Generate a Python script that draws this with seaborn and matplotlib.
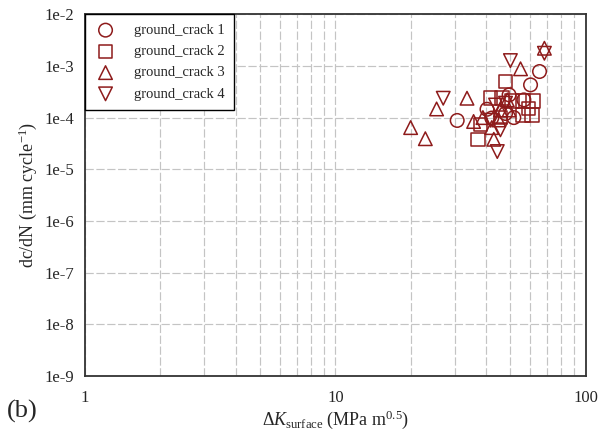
import numpy as np
import pandas as pd
import matplotlib
matplotlib.use("Agg")
import matplotlib.pyplot as plt
import matplotlib.ticker as mticker
import seaborn as sns

# ---- data ----
series_names = ["ground_crack 1", "ground_crack 2", "ground_crack 3", "ground_crack 4"]

dk_crack1 = [65.5, 60.3, 30.7, 49.5, 40.4, 56.7, 51.7, 47.9, 42.2]
dadn_crack1 = [7.8e-4, 4.3e-4, 8.8e-5, 2.75e-4, 1.45e-4, 2.2e-4, 1.0e-4, 1.2e-4, 9.8e-5]

dk_crack2 = [47.9, 37.2, 41.7, 46.4, 50.9, 56.3, 61.8, 56.3, 61.0, 45.7, 38.0, 59.1]
dadn_crack2 = [5.0e-4, 3.8e-5, 2.4e-4, 2.4e-4, 2.1e-4, 2.1e-4, 2.1e-4, 1.13e-4, 1.13e-4, 1.0e-4, 7.3e-5, 1.5e-4]

dk_crack3 = [20.0, 22.9, 25.4, 33.6, 55.0, 68.5, 35.7, 38.9, 42.2, 43.0, 45.7, 49.5, 48.7, 45.0]
dadn_crack3 = [6.4e-5, 3.9e-5, 1.47e-4, 2.37e-4, 8.8e-4, 2.2e-3, 8.4e-5, 1.0e-4, 6.4e-5, 3.8e-5, 1.4e-4, 1.4e-4, 2.2e-4, 9.0e-5]

dk_crack4 = [50.1, 27.0, 44.4, 68.5, 43.7, 41.7, 47.9, 45.7]
dadn_crack4 = [1.27e-3, 2.37e-4, 2.2e-5, 1.76e-3, 1.75e-4, 8.9e-5, 1.9e-4, 5.8e-5]

y_ticks = [1e-9, 1e-8, 1e-7, 1e-6, 1e-5, 1e-4, 1e-3, 1e-2]
y_tick_labels = ["1e-9", "1e-8", "1e-7", "1e-6", "1e-5", "1e-4", "1e-3", "1e-2"]
x_ticks = [1, 10, 100]
x_tick_labels = ["1", "10", "100"]

frames = []
for name, xs, ys in zip(series_names,
                        [dk_crack1, dk_crack2, dk_crack3, dk_crack4],
                        [dadn_crack1, dadn_crack2, dadn_crack3, dadn_crack4]):
    frames.append(pd.DataFrame({"dK": xs, "dadN": ys, "series": name}))
df = pd.concat(frames, ignore_index=True)

# ---- style ----
sns.set_style("white")
plt.rcParams["font.family"] = ["Liberation Serif", "DejaVu Serif"]
plt.rcParams["mathtext.fontset"] = "custom"
plt.rcParams["mathtext.rm"] = "Liberation Serif"
plt.rcParams["mathtext.it"] = "Liberation Serif:italic"
plt.rcParams["mathtext.bf"] = "Liberation Serif:bold"

fig = plt.figure(figsize=(6.08, 4.33), dpi=100)
ax = fig.add_axes([0.140, 0.132, 0.823, 0.835])

color = "#8E1B1B"
markers = ["o", "s", "^", "v"]
for name, m in zip(series_names, markers):
    sub = df[df["series"] == name]
    sns.scatterplot(data=sub, x="dK", y="dadN", ax=ax, marker=m, s=95,
                    color=color, facecolor="none", edgecolor=color,
                    linewidth=1.1, label=name, zorder=3)

ax.set_xscale("log")
ax.set_yscale("log")
ax.set_xlim(1, 100)
ax.set_ylim(1e-9, 1e-2)

ax.xaxis.set_major_locator(mticker.FixedLocator(x_ticks))
ax.xaxis.set_major_formatter(mticker.FixedFormatter(x_tick_labels))
ax.xaxis.set_minor_locator(mticker.LogLocator(base=10, subs=np.arange(2, 10)))
ax.xaxis.set_minor_formatter(mticker.NullFormatter())
ax.yaxis.set_major_locator(mticker.FixedLocator(y_ticks))
ax.yaxis.set_major_formatter(mticker.FixedFormatter(y_tick_labels))
ax.yaxis.set_minor_locator(mticker.NullLocator())

grid_kw = dict(color="#C4C4C4", linestyle=(0, (7, 2.2)), linewidth=0.85)
ax.grid(True, which="major", axis="both", **grid_kw)
ax.grid(True, which="minor", axis="x", **grid_kw)
ax.set_axisbelow(True)

ax.tick_params(axis="both", which="major", labelsize=12, length=0, pad=8)
ax.tick_params(axis="x", which="major", pad=10)
ax.tick_params(axis="both", which="minor", length=0)

for sp in ax.spines.values():
    sp.set_color("#333333")
    sp.set_linewidth(1.3)

ax.set_xlabel(r"$\Delta\mathit{K}_{\mathrm{surface}}$ (MPa m$^{0.5}$)", fontsize=13, labelpad=2)
ax.set_ylabel(r"dc/dN (mm cycle$^{-1}$)", fontsize=13, labelpad=4)

leg = ax.legend(loc="upper left", borderaxespad=0, fancybox=False,
                edgecolor="black", framealpha=1, fontsize=10.5,
                handletextpad=1.2, borderpad=0.65, labelspacing=0.55,
                handlelength=1.5)
leg.get_frame().set_linewidth(1.0)

fig.text(0.012, 0.035, "(b)", fontsize=19)

fig.savefig("out.png", dpi=100)
